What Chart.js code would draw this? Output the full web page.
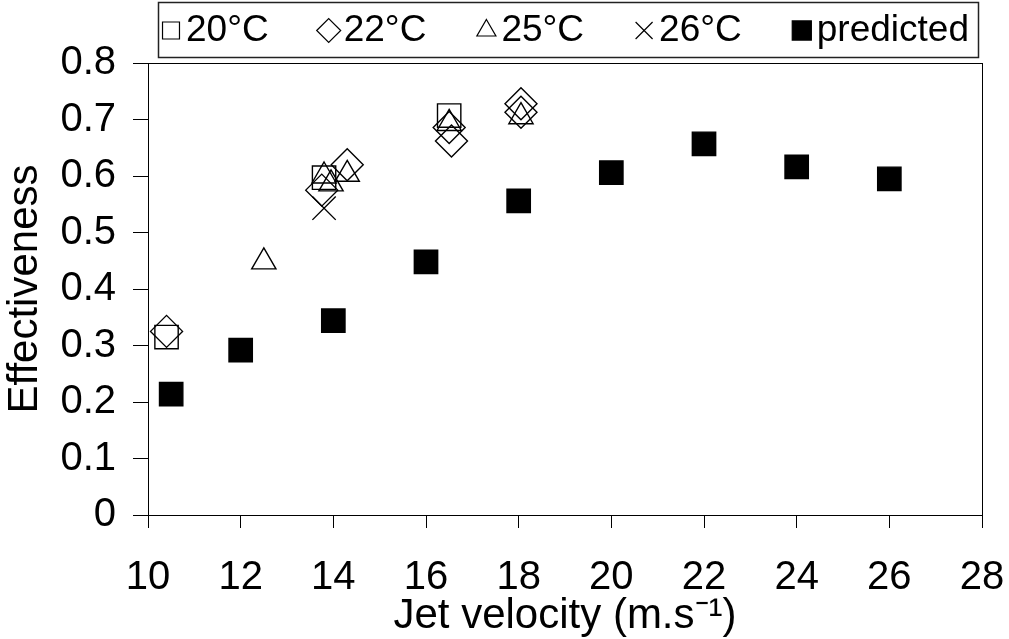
<!DOCTYPE html>
<html><head><meta charset="utf-8">
<script src="https://cdn.jsdelivr.net/npm/chart.js@4/dist/chart.umd.min.js"></script>
<style>html,body{margin:0;padding:0;background:#fff;overflow:hidden}</style>
</head><body>
<canvas id="c" width="1009" height="639"></canvas>
<script>
// ---- data ----
const xTickValues = [10, 12, 14, 16, 18, 20, 22, 24, 26, 28];
const yTickValues = [0, 0.1, 0.2, 0.3, 0.4, 0.5, 0.6, 0.7, 0.8];

const seriesNames = ['20°C', '22°C', '25°C', '26°C', 'predicted'];

const t20x = [10.4, 13.8, 16.5];
const t20y = [0.315, 0.597, 0.707];

const t22x = [10.4, 13.75, 14.3, 16.5, 16.55, 18.05, 18.05];
const t22y = [0.325, 0.575, 0.620, 0.686, 0.662, 0.728, 0.713];

const t25x = [12.5, 13.8, 13.95, 14.3, 16.5, 18.05];
const t25y = [0.448, 0.600, 0.586, 0.603, 0.693, 0.705];

const t26x = [13.8];
const t26y = [0.543];

const predX = [10.5, 12, 14, 16, 18, 20, 22, 24, 26];
const predY = [0.214, 0.292, 0.344, 0.448, 0.556, 0.606, 0.657, 0.616, 0.595];

const FONT = '"Liberation Sans", Arial, Helvetica, sans-serif';

function pts(xs, ys) { return xs.map((x, i) => ({x: x, y: ys[i]})); }

const styles = [
  {pointStyle: 'rect', radius: 16.5, fill: 'rgba(0,0,0,0)'},
  {pointStyle: 'rectRot', radius: 16, fill: 'rgba(0,0,0,0)'},
  {pointStyle: 'triangle', radius: 14, fill: 'rgba(0,0,0,0)'},
  {pointStyle: 'crossRot', radius: 16.5, fill: 'rgba(0,0,0,0)'},
  {pointStyle: 'rect', radius: 16.5, fill: '#000'}
];
const seriesData = [pts(t20x, t20y), pts(t22x, t22y), pts(t25x, t25y), pts(t26x, t26y), pts(predX, predY)];

const datasets = seriesData.map((d, i) => ({
  label: seriesNames[i],
  data: d,
  showLine: false,
  pointStyle: styles[i].pointStyle,
  pointRadius: styles[i].radius,
  pointHoverRadius: styles[i].radius,
  pointBackgroundColor: styles[i].fill,
  pointBorderColor: '#000',
  pointBorderWidth: 1.4
}));

// frame around plot area + boxed legend
const framePlugin = {
  id: 'frame',
  afterDraw(chart) {
    const ctx = chart.ctx, a = chart.chartArea;
    ctx.save();
    ctx.strokeStyle = '#000';
    ctx.lineWidth = 1;
    ctx.strokeRect(Math.round(a.left) + 0.5, Math.round(a.top) + 0.5,
                   Math.round(a.right - a.left), Math.round(a.bottom - a.top));
    // legend box
    const bx = 158, by = 2, bw = 820, bh = 55;
    ctx.strokeStyle = '#222';
    ctx.lineWidth = 1.5;
    ctx.strokeRect(bx + 0.5, by + 0.5, bw, bh);
    ctx.font = '37px ' + FONT;
    ctx.fillStyle = '#000';
    ctx.textBaseline = 'middle';
    ctx.textAlign = 'left';
    const symW = 20, gap = 5, padL = 3, padR = 9;
    const widths = seriesNames.map(t => ctx.measureText(t).width);
    const total = widths.reduce((s, w) => s + w + symW + gap, 0);
    const spacing = (bw - padL - padR - total) / (seriesNames.length - 1);
    let x = bx + padL;
    const cy = by + bh / 2 + 1;
    const legRad = [12, 12, 11, 12, 13.5];
    seriesNames.forEach((t, i) => {
      ctx.fillStyle = styles[i].fill;
      ctx.strokeStyle = '#000';
      ctx.lineWidth = 1.2;
      Chart.helpers.drawPoint(ctx, {pointStyle: styles[i].pointStyle, radius: legRad[i], borderWidth: 1.2, rotation: 0},
        x + symW / 2, cy);
      ctx.fillStyle = '#000';
      ctx.fillText(t, x + symW + gap, cy);
      x += symW + gap + widths[i] + spacing;
    });
    ctx.restore();
  }
};

new Chart(document.getElementById('c'), {
  type: 'scatter',
  data: {datasets: datasets},
  plugins: [framePlugin],
  options: {
    responsive: false,
    animation: false,
    events: [],
    layout: {padding: {top: 63, right: 27, bottom: 0, left: 0}},
    plugins: {legend: {display: false}, tooltip: {enabled: false}},
    scales: {
      x: {
        type: 'linear', min: 10, max: 28,
        afterBuildTicks(s) { s.ticks = xTickValues.map(v => ({value: v})); },
        afterFit(s) { s.height = 124; s.paddingLeft = 0; s.paddingRight = 0; },
        ticks: {font: {size: 40, family: FONT}, color: '#000', padding: 26, maxRotation: 0, autoSkip: false},
        grid: {drawOnChartArea: false, drawTicks: true, tickLength: 13, color: '#000', lineWidth: 1},
        border: {display: true, color: '#000', width: 1},
        title: {display: true, text: 'Jet velocity (m.s⁻¹)', color: '#000',
                font: {size: 42, family: FONT}, padding: {top: 0, bottom: -3}}
      },
      y: {
        type: 'linear', min: 0, max: 0.8,
        afterBuildTicks(s) { s.ticks = yTickValues.map(v => ({value: v})); },
        afterFit(s) { s.width = 148; s.paddingTop = 0; s.paddingBottom = 0; },
        ticks: {font: {size: 40, family: FONT}, color: '#000', padding: 17, autoSkip: false,
                callback: v => String(Math.round(v * 10) / 10)},
        grid: {drawOnChartArea: false, drawTicks: true, tickLength: 15, color: '#000', lineWidth: 1},
        border: {display: true, color: '#000', width: 1},
        title: {display: true, text: 'Effectiveness', color: '#000',
                font: {size: 42, family: FONT}, padding: {top: 0, bottom: 0}}
      }
    }
  }
});
</script>
</body></html>
